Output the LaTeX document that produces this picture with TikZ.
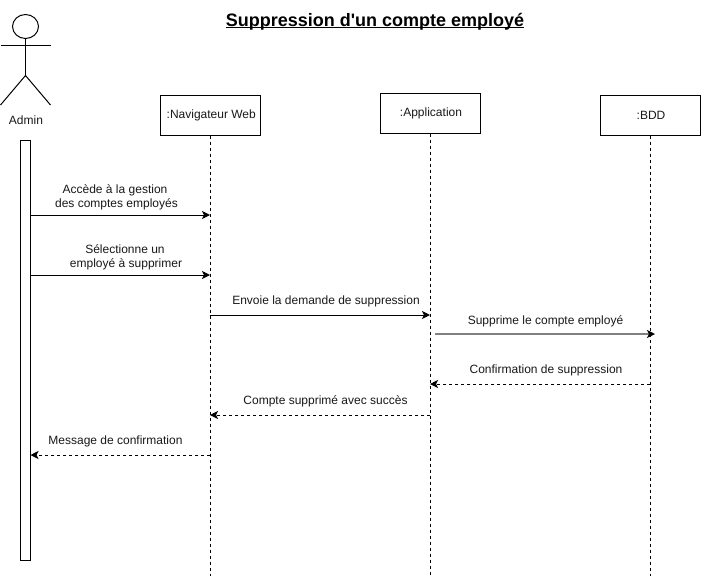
\documentclass[tikz,border=0pt]{standalone}
\usepackage{fontspec}
\setmainfont{Liberation Sans}
\newfontfamily\titlefont{Liberation Sans}
\usetikzlibrary{arrows.meta,shapes.geometric}
\tikzset{
  lbl/.style={inner sep=0pt,font=\fontsize{12}{14.5}\selectfont,align=center,text=black!90},
  objbox/.style={draw=black,line width=1pt,fill=white,minimum width=100pt,minimum height=40pt,inner sep=0pt,font=\fontsize{12}{14.5}\selectfont,text=black!90},
  life/.style={draw=black,line width=1pt,dash pattern=on 3pt off 3pt},
  msg/.style={draw=black,line width=1pt,-{Stealth[length=8pt,width=8pt,inset=2pt]}},
  reply/.style={msg,dash pattern=on 3pt off 3pt},
  limb/.style={draw=black,line width=1pt}
}
\begin{document}
\begin{tikzpicture}[x=1pt,y=-1pt]
\useasboundingbox[fill=white] (0,0) rectangle (701,576);
% title
\node[inner sep=0pt,font=\fontsize{18}{22}\titlefont\bfseries] (title) at (375,21.5) {\rlap{\rule[-2.2pt]{298pt}{1.4pt}}Suppression d'un compte employé};
% actor
\node[draw=black,line width=1pt,ellipse,minimum width=26pt,minimum height=24pt,inner sep=0pt] (head) at (25.5,26.5) {};
\coordinate (hip) at (25.5,75.5);
\coordinate (armL) at (0.5,45);
\coordinate (armR) at (50.5,45);
\coordinate (legL) at (0.5,105);
\coordinate (legR) at (50.5,105);
\draw[limb] (head.south) -- (hip);
\draw[limb] (armL) -- (armR);
\draw[limb] (legL) -- (hip) -- (legR);
\node[lbl] (admin) at (26,120) {Admin};
% activation
\node[draw=black,line width=1pt,fill=white,minimum width=10pt,minimum height=420pt,inner sep=0pt] (act) at (25,350) {};
% objects
\node[objbox] (nav) at (210,115) {\hspace*{2.5pt}:Navigateur Web};
\node[objbox] (app) at (430,113) {\hspace*{2pt}:Application};
\node[objbox] (bdd) at (650,115) {\hspace*{2pt}:BDD};
\coordinate (navEnd) at (210,576);
\coordinate (appEnd) at (430,576);
\coordinate (bddEnd) at (650,576);
\draw[life] (nav.south) -- (navEnd);
\draw[life] (app.south) -- (appEnd);
\draw[life] (bdd.south) -- (bddEnd);
% messages
\draw[msg] (act.east |- 0,215) -- (nav.south |- 0,215);
\node[lbl] (m1) at (115,197.5) {Accède à la gestion\\\hspace*{3pt}des comptes employés};
\draw[msg] (act.east |- 0,275) -- (nav.south |- 0,275);
\node[lbl] (m2) at (125,257.5) {Sélectionne un\\\hspace*{2pt}employé à supprimer};
\draw[msg] (nav.south |- 0,315) -- (app.south |- 0,315);
\node[lbl] (m3) at (326,301.5) {Envoie la demande de suppression};
\coordinate (m4s) at (435,334);
\draw[draw=black!50,line width=1.5pt,-{Stealth[length=8pt,width=8pt,inset=2pt,color=black]}] (m4s) -- ([xshift=5pt]bdd.south |- 0,334);
\node[lbl] (m4) at (545.5,321) {Supprime le compte employé};
\draw[reply] (bdd.south |- 0,384) -- (app.south |- 0,384);
\node[lbl] (m5) at (546,370.5) {Confirmation de suppression};
\draw[reply] (app.south |- 0,415) -- (nav.south |- 0,415);
\node[lbl] (m6) at (325.5,401) {Compte supprimé avec succès};
\draw[reply] (nav.south |- 0,455) -- (act.east |- 0,455);
\node[lbl] (m7) at (115.5,441) {Message de confirmation};
\end{tikzpicture}
\end{document}
